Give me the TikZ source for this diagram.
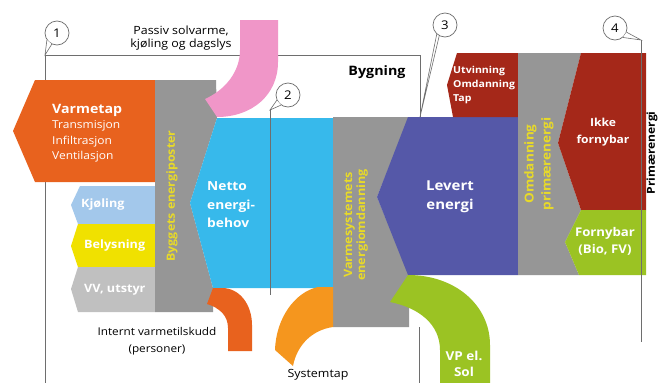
\documentclass[tikz,border=0pt]{standalone}
\usepackage{fontspec}
\setmainfont{Open Sans}[FakeStretch=1.1]
\usetikzlibrary{calc}
\definecolor{cOrange}{RGB}{232,98,30}
\definecolor{cLBlue}{RGB}{163,200,235}
\definecolor{cYellow}{RGB}{240,225,0}
\definecolor{cLGray}{RGB}{192,192,192}
\definecolor{cGray}{RGB}{150,150,150}
\definecolor{cBlue}{RGB}{55,185,235}
\definecolor{cPurple}{RGB}{85,88,168}
\definecolor{cRed}{RGB}{165,40,25}
\definecolor{cGreen}{RGB}{155,195,35}
\definecolor{cPink}{RGB}{240,150,200}
\definecolor{cSys}{RGB}{245,150,30}
\definecolor{cYText}{RGB}{232,218,40}
\definecolor{cLine}{RGB}{110,110,110}
\begin{document}
\begin{tikzpicture}[x=1pt,y=-1pt,
  wlbl/.style={text=white,inner sep=0,font=\bfseries\fontsize{11.5}{17}\selectfont},
  vlbl/.style={text=cYText,inner sep=0,rotate=90,align=center,font=\bfseries\fontsize{11.5}{13}\selectfont},
  blbl/.style={text=black,inner sep=0,align=center,font=\fontsize{11.3}{13.5}\selectfont},
  circ/.style={circle,draw=cLine,fill=white,line width=0.7pt,minimum size=24pt,inner sep=0,font=\fontsize{12}{12}\selectfont},
  frame/.style={draw=cLine,line width=0.8pt},
  thin/.style={draw=cLine,line width=0.6pt}]
\useasboundingbox (0,0) rectangle (659,383);
\fill[white] (0,0) rectangle (659,383);

% building frame
\draw[frame] (45,383) -- (45,55) -- (420,55) -- (420,117);
\draw[frame] (419,327) -- (419,383);

% left column
\fill[cOrange] (35,80) -- (155,80) -- (155,182) -- (35,182) -- (13,131) -- cycle;
\fill[cLBlue] (80,186) -- (155,186) -- (155,224) -- (78,224) -- (71,205) -- cycle;
\fill[cYellow] (78,224) -- (155,224) -- (155,267) -- (78,267) -- (71,246) -- cycle;
\fill[cLGray] (78,267) -- (155,267) -- (155,312) -- (78,312) -- (71,289) -- cycle;
\fill[cGray] (155,80) -- (216,80) -- (217,118) -- (190,203) -- (213,288) -- (213,312) -- (155,312) -- cycle;

% netto
\fill[cBlue] (217,118) -- (333,118) -- (333,288) -- (213,288) -- (190,203) -- cycle;

% varmesystem
\fill[cGray] (333,117) -- (409,117) -- (377,197) -- (409,275) -- (409,327) -- (333,327) -- cycle;
\fill[cPurple] (408,117) -- (518,117) -- (518,275) -- (408,275) -- (377,197) -- cycle;

% primary
\fill[cRed] (457,53) -- (518,53) -- (518,117) -- (453,117) -- (447,85) -- cycle;
\fill[cGray] (518,53) -- (581,53) -- (558,143) -- (581,210) -- (565,242) -- (579,275) -- (518,275) -- cycle;
\fill[cRed] (581,53) -- (646,53) -- (646,210) -- (581,210) -- (558,143) -- cycle;
\fill[cGreen] (581,210) -- (646,210) -- (646,275) -- (579,275) -- (565,242) -- cycle;

% swooshes
\fill[cPink] (240,20) -- (278,20) -- (278,62) .. controls (278,95) and (252,117) .. (217,117) -- (205,99) .. controls (225,90) and (240,72) .. (240,50) -- cycle;
\fill[cOrange] (213,288) -- (222,288) .. controls (240,288) and (252,305) .. (252,325) -- (252,351) -- (228,351) -- (228,328) .. controls (228,316) and (220,308) .. (207,304) -- cycle;
\fill[cSys] (318,287) -- (333,287) -- (333,327) .. controls (312,330) and (297,345) .. (293,366) -- (275,350) .. controls (276,318) and (295,292) .. (318,287) -- cycle;
\fill[cGreen] (408,275) .. controls (455,275) and (490,305) .. (490,345) -- (490,383) -- (440,383) -- (440,350) .. controls (440,325) and (420,308) .. (390,302) -- cycle;

% callouts
\node[circ] (c1) at (57,33) {1};
\coordinate (t1) at (45,55);
\fill[white] (c1.215) -- (t1) -- (c1.245) -- cycle;
\draw[thin] (c1.215) -- (t1) -- (c1.245);

\node[circ] (c2) at (288,95) {2};
\coordinate (t2) at (270,110);
\coordinate (b2) at (270,295);
\fill[white] (c2.205) -- (t2) -- (c2.235) -- cycle;
\draw[thin] (c2.205) -- (t2) -- (c2.235);
\draw[thin] (t2) -- (b2);

\node[circ] (c3) at (445,25) {3};
\coordinate (t3) at (420,117);
\draw[thin] (c3.228) -- (t3) -- (c3.242);

\node[circ] (c4) at (615,28) {4};
\coordinate (t4) at (641,40);
\coordinate (b4) at (641,342);
\fill[white] (c4.-20) -- (t4) -- (c4.-50) -- cycle;
\draw[thin] (c4.-20) -- (t4) -- (c4.-50);
\draw[thin] (t4) -- (b4);

% texts
\node[blbl] (passiv) at (181,38) {Passiv solvarme,\\kjøling og dagslys};
\node[text=black,inner sep=0,font=\bfseries\fontsize{13}{14}\selectfont] (bygning) at (377,72) {Bygning};
\node[wlbl,anchor=north west,align=left,font=\fontsize{10.9}{15.5}\selectfont] (varmetap) at (52,104)
  {{\bfseries\fontsize{12.9}{15.5}\selectfont Varmetap}\\Transmisjon\\Infiltrasjon\\Ventilasjon};
\node[wlbl,anchor=west] (kjoling) at (81,205) {Kjøling};
\node[wlbl,anchor=west] (belysning) at (84,246) {Belysning};
\node[wlbl,anchor=west] (vv) at (84,290) {VV, utstyr};
\node[vlbl,font=\bfseries\fontsize{11.3}{13}\selectfont] (byggets) at (172,196) {Byggets energiposter};
\node[wlbl,anchor=west,align=left,font=\bfseries\fontsize{12.5}{18.5}\selectfont] (netto) at (207,205) {Netto\\energi-\\behov};
\node[vlbl] (varmesys) at (356,225) {Varmesystemets\\energiomdanning};
\node[wlbl,align=center,font=\bfseries\fontsize{13.6}{18.5}\selectfont] (levert) at (450,197) {Levert\\energi};
\node[wlbl,anchor=north west,align=left,font=\bfseries\fontsize{9.6}{14}\selectfont] (utv) at (453,66) {Utvinning\\Omdanning\\Tap};
\node[vlbl,font=\bfseries\fontsize{12.3}{17}\selectfont] (omd) at (539,164) {Omdanning\\primærenergi};
\node[wlbl,align=center,font=\bfseries\fontsize{11}{17}\selectfont] (ikke) at (603,132) {Ikke\\fornybar};
\node[wlbl,align=center,font=\bfseries\fontsize{12}{17}\selectfont] (fornybar) at (605,241) {Fornybar\\(Bio, FV)};
\node[wlbl,align=center,font=\bfseries\fontsize{12.3}{15.5}\selectfont] (vp) at (464,364) {VP el.\\Sol};
\node[blbl,font=\fontsize{10.7}{17}\selectfont] (internt) at (157,341) {Internt varmetilskudd\\(personer)};
\node[blbl] (systemtap) at (318,375) {Systemtap};
\node[text=black,inner sep=0,rotate=90,font=\bfseries\fontsize{11}{12}\selectfont] (prim) at (652,153) {Primærenergi};
\end{tikzpicture}
\end{document}
